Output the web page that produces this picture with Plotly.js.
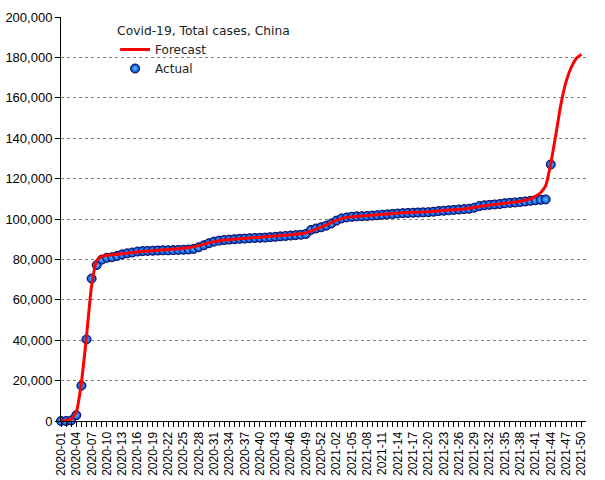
<!DOCTYPE html>
<html>
<head>
<meta charset="utf-8">
<script src="https://cdn.plot.ly/plotly-3.0.1.min.js"></script>
<style>html,body{margin:0;padding:0;background:#fff;}#chart{width:605px;height:480px;}</style>
</head>
<body>
<div id="chart"></div>
<script>
// Weekly categories 2020-01 .. 2020-53, 2021-01 .. 2021-50
var weeks = [];
for (var w = 1; w <= 53; w++) weeks.push('2020-' + (w < 10 ? '0' + w : '' + w));
for (var w2 = 1; w2 <= 50; w2++) weeks.push('2021-' + (w2 < 10 ? '0' + w2 : '' + w2));

// Actual total cases (2020-01 .. 2021-44)
var actualCases = [
  0, 0, 300, 2900, 17500, 40400, 70500, 77200, 79900, 80800,
  81100, 81700, 82500, 83000, 83400, 83900, 84100, 84200, 84300, 84400,
  84500, 84500, 84600, 84700, 84800, 84900, 85200, 86000, 87000, 88000,
  88800, 89300, 89600, 89800, 90000, 90200, 90300, 90500, 90600, 90700,
  90800, 91000, 91200, 91400, 91600, 91800, 92000, 92200, 92600, 94600,
  95300, 95900, 96700, 97800, 99200, 100300, 100800, 101100, 101300, 101400,
  101500, 101700, 101900, 102100, 102300, 102500, 102700, 102900, 103000, 103100,
  103200, 103300, 103400, 103600, 103900, 104100, 104300, 104500, 104700, 104900,
  105100, 105600, 106400, 106800, 107000, 107200, 107400, 107800, 108000, 108200,
  108400, 108700, 109000, 109300, 109500, 109700, 127000
];

// Forecast total cases (2020-01 .. 2021-50)
var forecastCases = [
  0, 300, 1000, 4500, 19000, 42000, 67000, 79500, 81500, 82000,
  82200, 82500, 82800, 83100, 83400, 83700, 83900, 84100, 84300, 84500,
  84700, 84900, 85100, 85300, 85500, 85800, 86200, 86800, 87500, 88200,
  88800, 89200, 89500, 89800, 90000, 90200, 90400, 90600, 90800, 91000,
  91200, 91400, 91600, 91800, 92000, 92200, 92400, 92700, 93100, 94000,
  95000, 96000, 97000, 98200, 99300, 100200, 100800, 101100, 101300, 101500,
  101700, 101900, 102100, 102300, 102500, 102700, 102900, 103100, 103200, 103300,
  103400, 103500, 103600, 103800, 104000, 104200, 104400, 104600, 104800, 105000,
  105300, 105700, 106200, 106600, 106900, 107200, 107500, 107800, 108100, 108400,
  108800, 109300, 110000, 111200, 113000, 116500, 127500, 142000, 157000, 168000,
  175000, 179500, 181500
];

var tickLabels = weeks.map(function (w, i) { return i % 3 === 0 ? w : ''; });
var yTicks = [0, 20000, 40000, 60000, 80000, 100000, 120000, 140000, 160000, 180000, 200000];

var actualTrace = {
  type: 'scatter', mode: 'markers', name: 'Actual', legendrank: 2,
  x: weeks.slice(0, actualCases.length), y: actualCases,
  cliponaxis: false,
  marker: {
    size: 9, color: '#0038d8',
    gradient: {type: 'radial', color: '#5cd0ff'},
    line: {width: 1, color: '#000850'}
  }
};
var forecastTrace = {
  type: 'scatter', mode: 'lines', name: 'Forecast', legendrank: 1,
  x: weeks, y: forecastCases,
  cliponaxis: false,
  line: {color: '#ff0000', width: 3, shape: 'spline', smoothing: 0.6}
};

var layout = {
  width: 605, height: 480,
  margin: {l: 61, r: 19, t: 17, b: 59},
  paper_bgcolor: '#ffffff', plot_bgcolor: '#ffffff',
  showlegend: true,
  legend: {
    x: 0.103, y: 0.995, xanchor: 'left', yanchor: 'top',
    bgcolor: 'rgba(0,0,0,0)',
    font: {family: 'DejaVu Sans', size: 12, color: '#222'},
    title: {text: 'Covid-19, Total cases, China', font: {family: 'DejaVu Sans', size: 12.3, color: '#222'}},
    tracegroupgap: 0, itemwidth: 30
  },
  xaxis: {
    type: 'category',
    range: [0, 102.9],
    tickmode: 'array', tickvals: weeks, ticktext: tickLabels,
    tickangle: -90,
    ticks: 'outside', ticklen: 5, tickcolor: '#000', tickwidth: 1,
    tickfont: {family: 'Liberation Sans', size: 12, color: '#000'},
    showline: true, linecolor: '#000', linewidth: 1,
    showgrid: false, zeroline: false
  },
  yaxis: {
    range: [0, 200000],
    tickmode: 'array', tickvals: yTicks,
    tickformat: ',d',
    ticks: 'outside', ticklen: 5, tickcolor: '#000', tickwidth: 1,
    tickfont: {family: 'Liberation Sans', size: 13, color: '#000'},
    showline: true, linecolor: '#000', linewidth: 1,
    showgrid: true, gridcolor: '#808080', griddash: 'dot', gridwidth: 1,
    zeroline: false
  }
};

Plotly.newPlot('chart', [actualTrace, forecastTrace], layout, {displayModeBar: false, staticPlot: true});
</script>
</body>
</html>
